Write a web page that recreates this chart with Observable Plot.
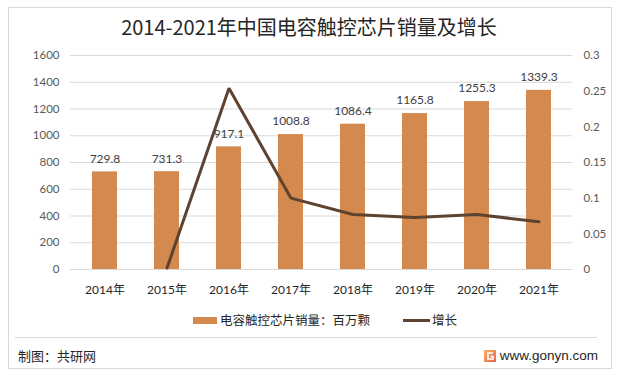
<!DOCTYPE html>
<html>
<head>
<meta charset="utf-8">
<script src="https://cdn.jsdelivr.net/npm/d3@7"></script>
<script src="https://cdn.jsdelivr.net/npm/@observablehq/plot@0.6"></script>
<style>
  html, body { margin: 0; padding: 0; background: #fff; }
  #root { position: relative; width: 618px; height: 375px; overflow: hidden; font-family: Lato, "Noto Sans CJK SC", sans-serif; }
  #frame { position: absolute; left: 8px; top: 7px; width: 604px; height: 362px; border: 1px solid #d9d9d9; box-sizing: border-box; }
  #title { position: absolute; left: 0; width: 618px; top: 12px; text-align: center; font-family: "Noto Sans CJK SC", sans-serif; font-size: 20px; color: #262626; line-height: 30px; }
  #chart { position: absolute; left: 0; top: 0; }
  #legend { position: absolute; top: 311px; left: 0; width: 618px; height: 18px; font-family: "Noto Sans CJK SC", sans-serif; font-size: 12.5px; color: #262626; }
  .lg { position: absolute; top: 0; line-height: 18px; white-space: nowrap; }
  #sep { position: absolute; left: 15px; width: 582px; top: 337px; height: 1px; background: #d9d9d9; }
  #credit { position: absolute; left: 18px; top: 346px; font-family: "Noto Sans CJK SC", sans-serif; font-size: 13px; color: #262626; line-height: 20px; }
  #site { position: absolute; right: 20px; top: 346px; font-family: "Liberation Sans", Arial, sans-serif; font-size: 13.5px; color: #262626; line-height: 20px; display: flex; align-items: center; gap: 4px; }
</style>
</head>
<body>
<div id="root">
  <div id="frame"></div>
  <div id="chart"></div>
  <div id="title">2014-2021年中国电容触控芯片销量及增长</div>
  <div id="legend">
    <div class="lg" style="left:193px;"><span style="display:inline-block;width:24px;height:7px;background:#D48A4E;vertical-align:middle;margin-right:3px;position:relative;top:-1px;"></span>电容触控芯片销量：百万颗</div>
    <div class="lg" style="left:403px;"><span style="display:inline-block;width:27px;height:3px;background:#5E4330;vertical-align:middle;margin-right:2px;position:relative;top:-1px;"></span>增长</div>
  </div>
  <div id="sep"></div>
  <div id="credit">制图：共研网</div>
  <div id="site">
    <svg width="12" height="12" viewBox="0 0 12 12">
      <defs><linearGradient id="lgG" x1="0" y1="0" x2="1" y2="1"><stop offset="0" stop-color="#F7B267"/><stop offset="1" stop-color="#E9644A"/></linearGradient></defs>
      <rect x="0" y="0" width="12" height="12" fill="url(#lgG)"/>
      <path d="M9 3H4v6h5V6.5H6.5" fill="none" stroke="#fff" stroke-width="1.6"/>
    </svg>
    <span>www.gonyn.com</span>
  </div>
</div>
<script>
const years = ["2014年", "2015年", "2016年", "2017年", "2018年", "2019年", "2020年", "2021年"];
const sales = [729.8, 731.3, 917.1, 1008.8, 1086.4, 1165.8, 1255.3, 1339.3];
const growth = [null, 0.002, 0.254, 0.100, 0.077, 0.073, 0.077, 0.067];
const leftTicks = [0, 200, 400, 600, 800, 1000, 1200, 1400, 1600];
const rightTicks = [0, 0.05, 0.1, 0.15, 0.2, 0.25, 0.3];
const rightTickLabels = ["0", "0.05", "0.1", "0.15", "0.2", "0.25", "0.3"];

const yMax = 1600, rMax = 0.3, k = yMax / rMax;
const rows = years.map((year, i) => ({year, sales: sales[i], growth: growth[i]}));
const lineRows = rows.filter(d => d.growth != null);
const rightMapped = rightTicks.map(v => v * k);

const chart = Plot.plot({
  width: 618,
  height: 305,
  marginLeft: 70,
  marginRight: 46,
  marginTop: 55,
  marginBottom: 36,
  style: {fontFamily: 'Lato, "Noto Sans CJK SC", sans-serif', background: "transparent", overflow: "visible"},
  x: {domain: years, paddingInner: 0.6, paddingOuter: 0.3, axis: null},
  y: {domain: [0, yMax], axis: null},
  marks: [
    Plot.gridY(leftTicks, {stroke: "#d9d9d9", strokeOpacity: 1, strokeWidth: 1}),
    Plot.barY(rows, {x: "year", y: "sales", fill: "#D48A4E"}),
    Plot.line(lineRows, {x: "year", y: d => d.growth * k, stroke: "#5E4330", strokeWidth: 3, strokeLinejoin: "miter"}),
    Plot.text(rows, {x: "year", y: "sales", text: d => d.sales.toFixed(1), dy: -13, fill: "#404040", fontSize: 12}),
    Plot.axisY(leftTicks, {anchor: "left", tickSize: 0, tickPadding: 11, color: "#595959", fontSize: 11.5, label: null,
      tickFormat: d => String(d)}),
    Plot.axisY(rightMapped, {anchor: "right", tickSize: 0, tickPadding: 11, color: "#595959", fontSize: 11.5, label: null,
      tickFormat: d => rightTickLabels[rightMapped.indexOf(d)]}),
    Plot.axisX(years, {anchor: "bottom", tickSize: 0, tickPadding: 16, color: "#262626", fontSize: 12, label: null})
  ]
});
document.getElementById("chart").appendChild(chart);
</script>
</body>
</html>
